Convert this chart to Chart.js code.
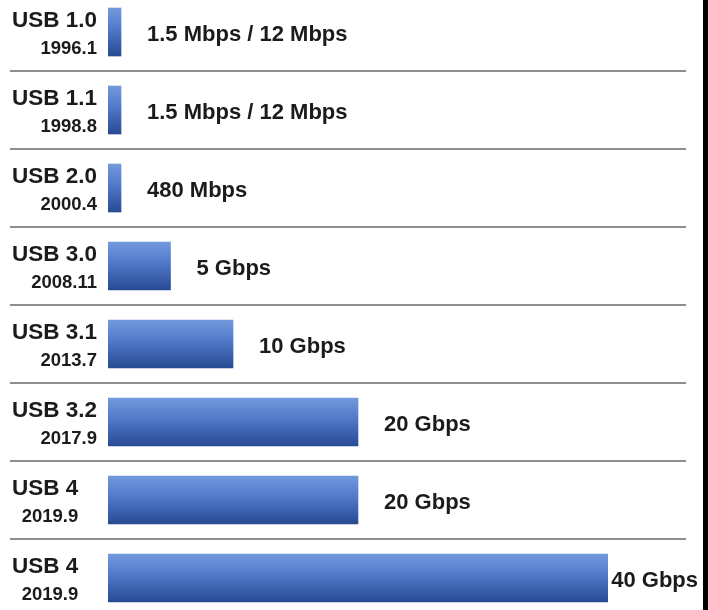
<!DOCTYPE html>
<html>
<head>
<meta charset="utf-8">
<script src="https://cdn.jsdelivr.net/npm/chart.js@4"></script>
<style>
  html, body { margin: 0; padding: 0; background: #000; overflow: hidden; width: 708px; height: 610px; }
  #wrap { position: absolute; left: 0; top: -7px; width: 703px; height: 624px; background: #fff; }
</style>
</head>
<body>
<div id="wrap"><canvas id="chart"></canvas></div>
<script>
// USB generations, release dates and maximum transfer rates
const versions = ['USB 1.0', 'USB 1.1', 'USB 2.0', 'USB 3.0', 'USB 3.1', 'USB 3.2', 'USB 4', 'USB 4'];
const releaseDates = ['1996.1', '1998.8', '2000.4', '2008.11', '2013.7', '2017.9', '2019.9', '2019.9'];
const speedGbps = [0.012, 0.012, 0.48, 5, 10, 20, 20, 40];
const speedLabels = ['1.5 Mbps / 12 Mbps', '1.5 Mbps / 12 Mbps', '480 Mbps', '5 Gbps', '10 Gbps', '20 Gbps', '20 Gbps', '40 Gbps'];

const BAR = 48;
const FONT = '"Liberation Sans", Arial, sans-serif';
const TEXT = '#1b1b1b';

// vertical blue gradient for each bar
function barFill(ctx) {
  const chart = ctx.chart;
  const ys = chart.scales && chart.scales.y;
  if (!ys || ctx.dataIndex === undefined) return '#4f78c9';
  const c = ys.getPixelForValue(ctx.dataIndex);
  if (!isFinite(c)) return '#4f78c9';
  const g = chart.ctx.createLinearGradient(0, c - BAR / 2, 0, c + BAR / 2);
  g.addColorStop(0, '#7399dd');
  g.addColorStop(0.45, '#4f78c9');
  g.addColorStop(1, '#284a92');
  return g;
}

// row separators, two-line category labels and value labels
const rowDecor = {
  id: 'rowDecor',
  beforeDatasetsDraw(chart) {
    const { ctx } = chart;
    const ys = chart.scales.y;
    ctx.save();
    ctx.strokeStyle = '#8e8e8e';
    ctx.lineWidth = 2;
    for (let i = 0; i < versions.length - 1; i++) {
      const y = Math.round((ys.getPixelForValue(i) + ys.getPixelForValue(i + 1)) / 2);
      ctx.beginPath();
      ctx.moveTo(10, y);
      ctx.lineTo(686, y);
      ctx.stroke();
    }
    ctx.restore();
  },
  afterDatasetsDraw(chart) {
    const { ctx } = chart;
    const ys = chart.scales.y;
    const meta = chart.getDatasetMeta(0);
    ctx.save();
    ctx.fillStyle = TEXT;
    ctx.textBaseline = 'alphabetic';
    versions.forEach((name, i) => {
      const c = ys.getPixelForValue(i);
      // version name left-aligned, date right-aligned under its end
      ctx.font = 'bold 22.5px ' + FONT;
      ctx.textAlign = 'left';
      const nameW = ctx.measureText(name).width;
      ctx.fillText(name, 12, c - 5);
      ctx.font = 'bold 18.5px ' + FONT;
      ctx.textAlign = 'right';
      ctx.fillText(releaseDates[i], 12 + nameW, c + 22);

      const bar = meta.data[i];
      ctx.font = 'bold 22px ' + FONT;
      ctx.textAlign = 'left';
      const w = ctx.measureText(speedLabels[i]).width;
      let x = Math.max(147, bar.x + 26);
      x = Math.min(x, 698 - w);
      ctx.fillText(speedLabels[i], x, c + 9);
    });
    ctx.restore();
  }
};

const chart = new Chart(document.getElementById('chart'), {
  type: 'bar',
  data: {
    labels: versions,
    datasets: [{
      data: speedGbps,
      backgroundColor: barFill,
      borderWidth: 0,
      barThickness: BAR,
      minBarLength: 13
    }]
  },
  options: {
    indexAxis: 'y',
    responsive: true,
    maintainAspectRatio: false,
    animation: false,
    layout: { padding: { left: 108, right: 95, top: 0, bottom: 0 } },
    scales: {
      x: { display: false, min: 0, max: 40 },
      y: { display: false }
    },
    plugins: {
      legend: { display: false },
      tooltip: { enabled: false }
    }
  },
  plugins: [rowDecor]
});
// re-resolve the gradients once the scales have their final pixel ranges
chart.update('none');
</script>
</body>
</html>
